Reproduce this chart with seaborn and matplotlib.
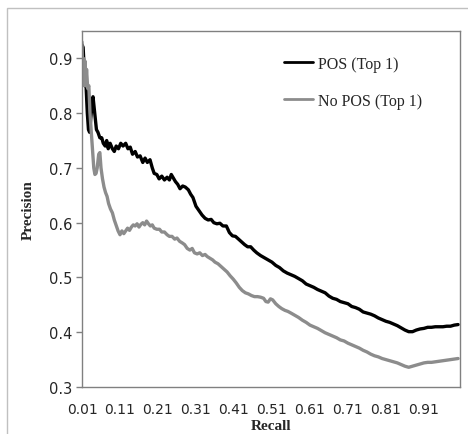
import pandas as pd
import matplotlib.pyplot as plt
import matplotlib.patches as mpatches
import seaborn as sns

# precision/recall
pos_recall = [0.010, 0.013, 0.016, 0.018, 0.020, 0.024, 0.027, 0.030, 0.033, 0.037,
              0.039, 0.042, 0.045, 0.048, 0.052, 0.057, 0.062, 0.066, 0.071, 0.075,
              0.079, 0.084, 0.090, 0.095, 0.100, 0.106, 0.112, 0.118, 0.125, 0.131,
              0.137, 0.143, 0.150, 0.156, 0.163, 0.170, 0.176, 0.182, 0.189, 0.195,
              0.200, 0.207, 0.213, 0.220, 0.227, 0.234, 0.240, 0.245, 0.250, 0.256,
              0.262, 0.268, 0.275, 0.282, 0.290, 0.296, 0.302, 0.310, 0.318, 0.326,
              0.334, 0.342, 0.350, 0.357, 0.365, 0.373, 0.381, 0.390, 0.398, 0.406,
              0.414, 0.422, 0.430, 0.438, 0.446, 0.454, 0.462, 0.470, 0.480, 0.490,
              0.500, 0.510, 0.520, 0.530, 0.540, 0.550, 0.560, 0.570, 0.580, 0.590,
              0.600, 0.610, 0.620, 0.630, 0.640, 0.650, 0.660, 0.670, 0.680, 0.690,
              0.700, 0.710, 0.720, 0.730, 0.740, 0.750, 0.760, 0.770, 0.780, 0.790,
              0.800, 0.810, 0.820, 0.830, 0.840, 0.850, 0.860, 0.870, 0.880, 0.890,
              0.900, 0.910, 0.920, 0.930, 0.940, 0.950, 0.960, 0.970, 0.980, 0.990,
              1.000]
pos_precision = [0.925, 0.920, 0.880, 0.850, 0.860, 0.800, 0.770, 0.765, 0.790, 0.820,
                 0.830, 0.810, 0.790, 0.770, 0.765, 0.755, 0.755, 0.745, 0.740, 0.750,
                 0.735, 0.745, 0.735, 0.730, 0.740, 0.735, 0.745, 0.740, 0.745, 0.735,
                 0.738, 0.725, 0.730, 0.720, 0.722, 0.710, 0.718, 0.710, 0.715, 0.700,
                 0.690, 0.688, 0.680, 0.685, 0.678, 0.683, 0.678, 0.688, 0.682, 0.675,
                 0.670, 0.662, 0.667, 0.665, 0.660, 0.652, 0.646, 0.630, 0.622, 0.614,
                 0.608, 0.605, 0.606, 0.600, 0.598, 0.599, 0.594, 0.594, 0.582, 0.576,
                 0.575, 0.570, 0.565, 0.560, 0.556, 0.556, 0.550, 0.545, 0.540, 0.536,
                 0.532, 0.528, 0.522, 0.518, 0.512, 0.508, 0.505, 0.502, 0.498, 0.494,
                 0.488, 0.485, 0.482, 0.478, 0.475, 0.472, 0.466, 0.462, 0.460, 0.456,
                 0.454, 0.452, 0.447, 0.445, 0.442, 0.437, 0.435, 0.433, 0.430, 0.426,
                 0.423, 0.420, 0.418, 0.415, 0.412, 0.408, 0.404, 0.401, 0.401, 0.404,
                 0.406, 0.407, 0.409, 0.409, 0.410, 0.410, 0.410, 0.411, 0.411, 0.413,
                 0.414]

nopos_recall = [0.010, 0.012, 0.014, 0.016, 0.018, 0.020, 0.022, 0.025, 0.028, 0.031,
                0.037, 0.041, 0.044, 0.047, 0.050, 0.054, 0.057, 0.060, 0.064, 0.068,
                0.072, 0.076, 0.080, 0.085, 0.090, 0.095, 0.100, 0.105, 0.110, 0.115,
                0.120, 0.125, 0.130, 0.135, 0.140, 0.145, 0.150, 0.155, 0.160, 0.165,
                0.170, 0.175, 0.180, 0.185, 0.190, 0.195, 0.200, 0.207, 0.214, 0.220,
                0.227, 0.234, 0.240, 0.247, 0.254, 0.260, 0.267, 0.274, 0.280, 0.287,
                0.294, 0.300, 0.306, 0.313, 0.320, 0.327, 0.334, 0.340, 0.347, 0.354,
                0.360, 0.368, 0.376, 0.384, 0.392, 0.400, 0.408, 0.416, 0.424, 0.432,
                0.440, 0.448, 0.456, 0.464, 0.472, 0.480, 0.488, 0.494, 0.500, 0.506,
                0.512, 0.520, 0.528, 0.536, 0.544, 0.552, 0.560, 0.570, 0.580, 0.590,
                0.600, 0.610, 0.620, 0.630, 0.640, 0.650, 0.660, 0.670, 0.680, 0.690,
                0.700, 0.710, 0.720, 0.730, 0.740, 0.750, 0.760, 0.770, 0.780, 0.790,
                0.800, 0.810, 0.820, 0.830, 0.840, 0.850, 0.860, 0.870, 0.880, 0.890,
                0.900, 0.910, 0.920, 0.930, 0.940, 0.950, 0.960, 0.970, 0.980, 0.990,
                1.000]
nopos_precision = [0.930, 0.860, 0.900, 0.850, 0.895, 0.850, 0.880, 0.845, 0.850, 0.800,
                   0.740, 0.700, 0.688, 0.690, 0.700, 0.725, 0.728, 0.700, 0.680, 0.665,
                   0.655, 0.648, 0.635, 0.625, 0.618, 0.605, 0.595, 0.585, 0.578, 0.585,
                   0.580, 0.585, 0.590, 0.586, 0.592, 0.596, 0.594, 0.598, 0.592, 0.597,
                   0.600, 0.596, 0.603, 0.598, 0.594, 0.596, 0.590, 0.588, 0.588, 0.583,
                   0.583, 0.578, 0.575, 0.575, 0.570, 0.572, 0.566, 0.563, 0.560, 0.553,
                   0.550, 0.553, 0.545, 0.543, 0.545, 0.540, 0.542, 0.538, 0.535, 0.532,
                   0.528, 0.525, 0.520, 0.515, 0.510, 0.503, 0.497, 0.490, 0.482, 0.476,
                   0.472, 0.470, 0.467, 0.465, 0.465, 0.464, 0.462, 0.456, 0.455, 0.461,
                   0.459, 0.452, 0.447, 0.443, 0.440, 0.438, 0.435, 0.431, 0.427, 0.422,
                   0.418, 0.413, 0.410, 0.407, 0.403, 0.399, 0.396, 0.393, 0.390, 0.386,
                   0.384, 0.380, 0.377, 0.374, 0.371, 0.367, 0.364, 0.360, 0.357, 0.355,
                   0.352, 0.350, 0.348, 0.346, 0.344, 0.341, 0.338, 0.336, 0.338, 0.340,
                   0.342, 0.344, 0.345, 0.345, 0.346, 0.347, 0.348, 0.349, 0.350, 0.351,
                   0.352]

x_ticks = [0.01, 0.11, 0.21, 0.31, 0.41, 0.51, 0.61, 0.71, 0.81, 0.91]
y_ticks = [0.3, 0.4, 0.5, 0.6, 0.7, 0.8, 0.9]

df_pos = pd.DataFrame({'Recall': pos_recall, 'Precision': pos_precision})
df_nopos = pd.DataFrame({'Recall': nopos_recall, 'Precision': nopos_precision})

sns.set_style("white")
plt.rcParams['font.family'] = ['DejaVu Sans']

fig = plt.figure(figsize=(4.68, 4.35), dpi=100)
# light outer chart-area frame
fig.patches.append(mpatches.Rectangle((7 / 468, -0.1), 1.2, (435 - 9) / 435 + 0.1,
                                      transform=fig.transFigure, fill=False,
                                      edgecolor='#c0c0c0', linewidth=1.0))
ax = fig.add_axes([82 / 468, 47 / 435, 378 / 468, 356 / 435])

sns.lineplot(data=df_pos, x='Recall', y='Precision', ax=ax, sort=False,
             estimator=None, color='black', linewidth=2.4, label='POS (Top 1)')
sns.lineplot(data=df_nopos, x='Recall', y='Precision', ax=ax, sort=False,
             estimator=None, color='#8c8c8c', linewidth=2.4, label='No POS (Top 1)')

ax.set_xlim(0.01, 1.005)
ax.set_ylim(0.3, 0.95)
ax.set_xticks(x_ticks)
ax.set_xticklabels([f'{t:.2f}' for t in x_ticks], fontsize=10)
ax.set_yticks(y_ticks)
ax.set_yticklabels([f'{t:.1f}' for t in y_ticks], fontsize=10.5)
ax.tick_params(axis='y', direction='out', length=4, width=1, color='#808080', left=True, pad=3)
ax.tick_params(axis='x', length=0, pad=11)

for s in ax.spines.values():
    s.set_color('#808080')
    s.set_linewidth(1.0)

ax.set_xlabel('Recall', fontsize=11, fontweight='bold', family='Liberation Serif', labelpad=2)
ax.set_ylabel('Precision', fontsize=11, fontweight='bold', family='Liberation Serif', labelpad=10)

leg = ax.legend(loc='upper left', bbox_to_anchor=(0.497, 0.97), frameon=False,
                prop={'family': 'Liberation Serif', 'size': 11.5},
                handlelength=1.8, handletextpad=0.3, labelspacing=1.3)
for line in leg.get_lines():
    line.set_linewidth(2.0)

plt.savefig('out.png', dpi=100)
